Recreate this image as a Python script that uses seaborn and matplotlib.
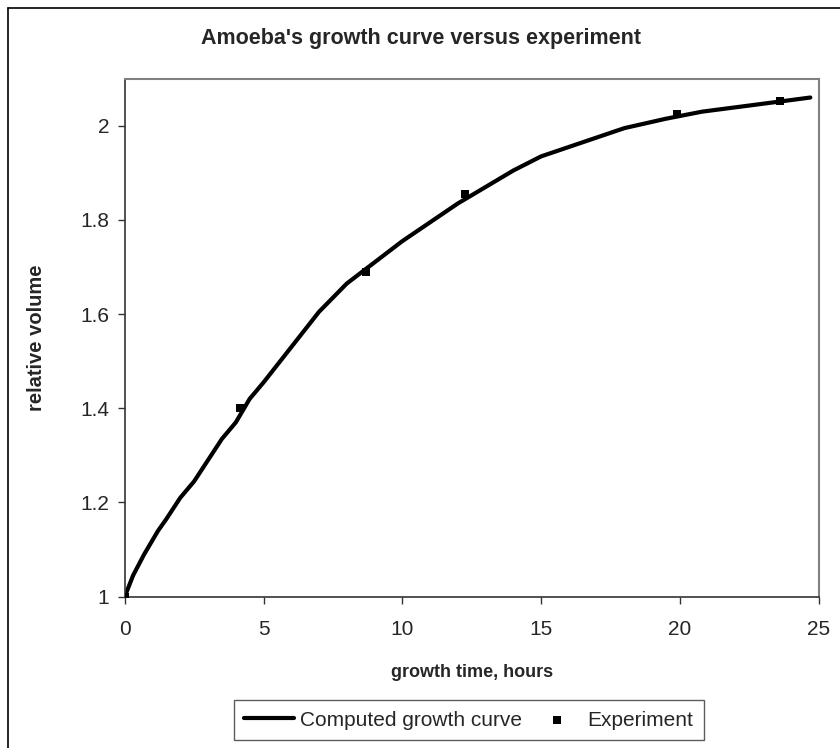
import pandas as pd
import matplotlib
matplotlib.use("Agg")
import matplotlib.pyplot as plt
import seaborn as sns

# computed growth curve
t_curve = [0, 0.3, 0.7, 1.2, 1.5, 2.0, 2.5, 3.0, 3.5, 4.0, 4.5, 5.0, 6.0, 7.0, 8.0,
           9.0, 10.0, 11.0, 12.0, 13.0, 14.0, 15.0, 16.5, 18.0, 19.5, 20.8, 22.5, 24.7]
v_curve = [1.0, 1.045, 1.09, 1.14, 1.165, 1.21, 1.245, 1.29, 1.335, 1.37, 1.42, 1.455,
           1.53, 1.605, 1.665, 1.71, 1.755, 1.795, 1.835, 1.87, 1.905, 1.935, 1.965,
           1.995, 2.015, 2.03, 2.043, 2.06]

# experimental points
t_exp = [0, 4.15, 8.7, 12.25, 19.9, 23.6]
v_exp = [1.0, 1.40, 1.69, 1.855, 2.025, 2.052]

curve = pd.DataFrame({"t": t_curve, "v": v_curve})
exp = pd.DataFrame({"t": t_exp, "v": v_exp})

sns.set_style("white")
plt.rcParams['font.family'] = ['Liberation Sans', 'DejaVu Sans']

fig = plt.figure(figsize=(8.4, 7.48), dpi=100)
ax = fig.add_axes([0.1485, 0.2023, 0.8261, 0.6925])

sns.lineplot(data=curve, x="t", y="v", ax=ax, color="black", linewidth=3,
             label="Computed growth curve", sort=False)
sns.scatterplot(data=exp, x="t", y="v", ax=ax, color="black", marker="s", s=40,
                linewidth=0, label="Experiment", zorder=5)

ax.set_xlim(0, 25)
ax.set_ylim(1, 2.1)
ax.set_xticks([0, 5, 10, 15, 20, 25])
ax.set_yticks([1, 1.2, 1.4, 1.6, 1.8, 2])
ax.set_yticklabels(["1", "1.2", "1.4", "1.6", "1.8", "2"])
ax.tick_params(axis="both", labelsize=15, direction="out", length=5, width=1,
               color="#333333", left=True, bottom=True)
ax.tick_params(axis="x", pad=11.5)
ax.tick_params(axis="y", pad=6)

for side in ["top", "right"]:
    ax.spines[side].set_color("#808080")
    ax.spines[side].set_linewidth(1.5)
for side in ["left", "bottom"]:
    ax.spines[side].set_color("#333333")
    ax.spines[side].set_linewidth(1.2)

ax.set_xlabel("growth time, hours", fontsize=13, fontweight="bold", labelpad=18)
ax.set_ylabel("relative volume", fontsize=14.5, fontweight="bold", labelpad=25)
fig.text(0.501, 0.949, "Amoeba's growth curve versus experiment", ha="center",
         va="center", fontsize=15.5, fontweight="bold")

leg = ax.legend(loc="upper center", bbox_to_anchor=(0.496, -0.2), ncol=2,
                frameon=True, fancybox=False, fontsize=15, handlelength=2.4,
                handletextpad=0.28, columnspacing=0.45, borderpad=0.5,
                borderaxespad=0, markerscale=0.8)
leg.get_frame().set_edgecolor("#333333")
leg.get_frame().set_linewidth(1)

# outer chart border (only left and top edges are inside the picture)
fig.add_artist(plt.Line2D([8 / 840, 8 / 840], [0, 1 - 8 / 748],
                          transform=fig.transFigure, color="black", linewidth=1.2))
fig.add_artist(plt.Line2D([8 / 840, 1], [1 - 8 / 748, 1 - 8 / 748],
                          transform=fig.transFigure, color="black", linewidth=1.2))

fig.savefig("out.png", dpi=100)
